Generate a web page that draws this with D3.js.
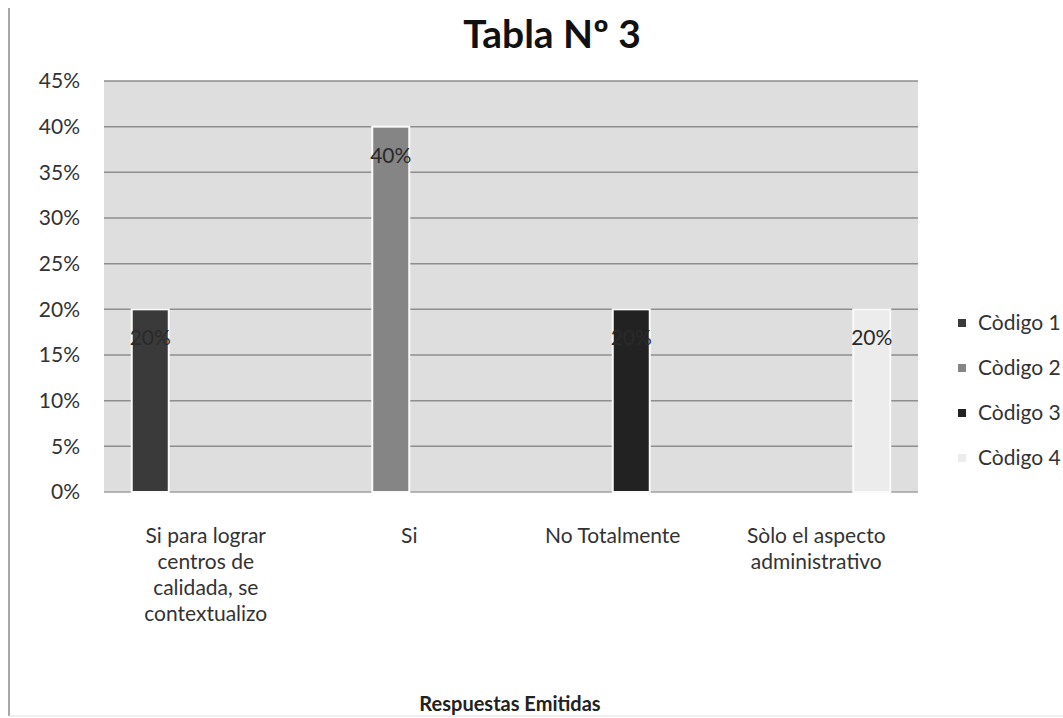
<!DOCTYPE html>
<html>
<head>
<meta charset="utf-8">
<script src="https://cdn.jsdelivr.net/npm/d3@7"></script>
<style>
body { margin: 0; background: #fff; }
text { font-family: Lato, "Open Sans", sans-serif; }
</style>
</head>
<body>
<div id="chart-area"></div>
<script>
// data
var categories = [
	["Si para lograr", "centros de", "calidada, se", "contextualizo"],
	["Si"],
	["No Totalmente"],
	["Sòlo el aspecto", "administrativo"]
]
var series = ["Còdigo 1", "Còdigo 2", "Còdigo 3", "Còdigo 4"]
var colors = ["#3a3a3a", "#858585", "#222222", "#ececec"]
// one value per series per category (zeros are not drawn)
var values = [
	[0.20, 0, 0, 0],
	[0, 0.40, 0, 0],
	[0, 0, 0.20, 0],
	[0, 0, 0, 0.20]
]
var yTicks = [0, 0.05, 0.10, 0.15, 0.20, 0.25, 0.30, 0.35, 0.40, 0.45]

var width = 1063
var height = 718
var plot = {left: 104, right: 918, top: 81, bottom: 492}

var svg = d3.select("#chart-area").append("svg")
.attr("width", width)
.attr("height", height)

// page border lines from the scan
svg.append("line")
.attr("x1", 9).attr("x2", 9).attr("y1", 8).attr("y2", 716)
.attr("stroke", "#8a8a8a").attr("stroke-width", 1.5)
svg.append("line")
.attr("x1", 9).attr("x2", 1063).attr("y1", 716).attr("y2", 716)
.attr("stroke", "#e0e0e0").attr("stroke-width", 1)

var x = d3.scaleBand()
.domain(d3.range(categories.length))
.range([plot.left, plot.right])

// excel-like gap width of 150%: 4 bars + 1.5 bar of gap per group
var innerBar = x.bandwidth() / 5.5
var xInner = d3.scaleBand()
.domain(series)
.range([innerBar * 0.75, innerBar * 4.75])

var y = d3.scaleLinear()
.domain([0, 0.45])
.range([plot.bottom, plot.top])

// plot background
svg.append("rect")
.attr("x", plot.left)
.attr("y", plot.top)
.attr("width", plot.right - plot.left)
.attr("height", plot.bottom - plot.top)
.attr("fill", "#dedede")

// gridlines
svg.append("g")
.selectAll("line")
.data(yTicks)
.enter().append("line")
.attr("x1", plot.left)
.attr("x2", plot.right)
.attr("y1", d => y(d))
.attr("y2", d => y(d))
.attr("stroke", d => d == 0 ? "#a0a0a0" : "#8e8e8e")
.attr("stroke-width", 1.5)

// y axis labels
var yAxis = d3.axisLeft(y)
.tickValues(yTicks)
.tickFormat(d3.format(".0%"))
.tickSize(0)
.tickPadding(24)

var yAxisGroup = svg.append("g")
.attr("transform", "translate(" + plot.left + ",0)")
.call(yAxis)
yAxisGroup.select(".domain").remove()
yAxisGroup.selectAll("text")
.attr("font-size", "21px")
.attr("fill", "#333")
.style("font-family", "Lato, 'Open Sans', sans-serif")

// bars
var bars = []
values.forEach((row, i) => {
	row.forEach((v, j) => {
		if (v > 0) bars.push({cat: i, s: j, value: v})
	})
})

svg.append("g")
.selectAll("rect")
.data(bars)
.enter().append("rect")
.attr("x", d => x(d.cat) + xInner(series[d.s]))
.attr("y", d => y(d.value))
.attr("width", xInner.bandwidth())
.attr("height", d => y(0) - y(d.value))
.attr("fill", d => colors[d.s])
.attr("stroke", "#fafafa")
.attr("stroke-width", 2)

// data labels
svg.append("g")
.selectAll("text")
.data(bars)
.enter().append("text")
.attr("x", d => x(d.cat) + xInner(series[d.s]) + xInner.bandwidth() / 2)
.attr("y", d => y(d.value) + 36)
.attr("text-anchor", "middle")
.attr("font-size", "21px")
.attr("fill", "#2a2a2a")
.text(d => d3.format(".0%")(d.value))

// category labels
var catGroup = svg.append("g")
categories.forEach((lines, i) => {
	var t = catGroup.append("text")
	.attr("x", x(i) + x.bandwidth() / 2)
	.attr("y", 543)
	.attr("text-anchor", "middle")
	.attr("font-size", "21px")
	.attr("fill", "#333")
	lines.forEach((line, k) => {
		t.append("tspan")
		.attr("x", x(i) + x.bandwidth() / 2)
		.attr("dy", k == 0 ? 0 : 26)
		.text(line)
	})
})

// title
svg.append("text")
.attr("x", 552)
.attr("y", 48)
.attr("text-anchor", "middle")
.attr("font-size", "39px")
.attr("font-weight", "bold")
.attr("fill", "#111")
.text("Tabla Nº 3")

// x axis title
svg.append("text")
.attr("x", 510)
.attr("y", 711)
.attr("text-anchor", "middle")
.attr("font-size", "20px")
.attr("font-weight", "bold")
.attr("fill", "#222")
.text("Respuestas Emitidas")

// legend
var legend = svg.append("g")
.attr("transform", "translate(958, 323)")

series.forEach((s, i) => {
	var row = legend.append("g")
	.attr("transform", "translate(0," + (i * 45) + ")")

	row.append("rect")
	.attr("x", 0)
	.attr("y", -4)
	.attr("width", 8)
	.attr("height", 8)
	.attr("fill", colors[i])

	row.append("text")
	.attr("x", 20)
	.attr("y", 7)
	.attr("font-size", "21px")
	.attr("fill", "#333")
	.text(s)
})
</script>
</body>
</html>
